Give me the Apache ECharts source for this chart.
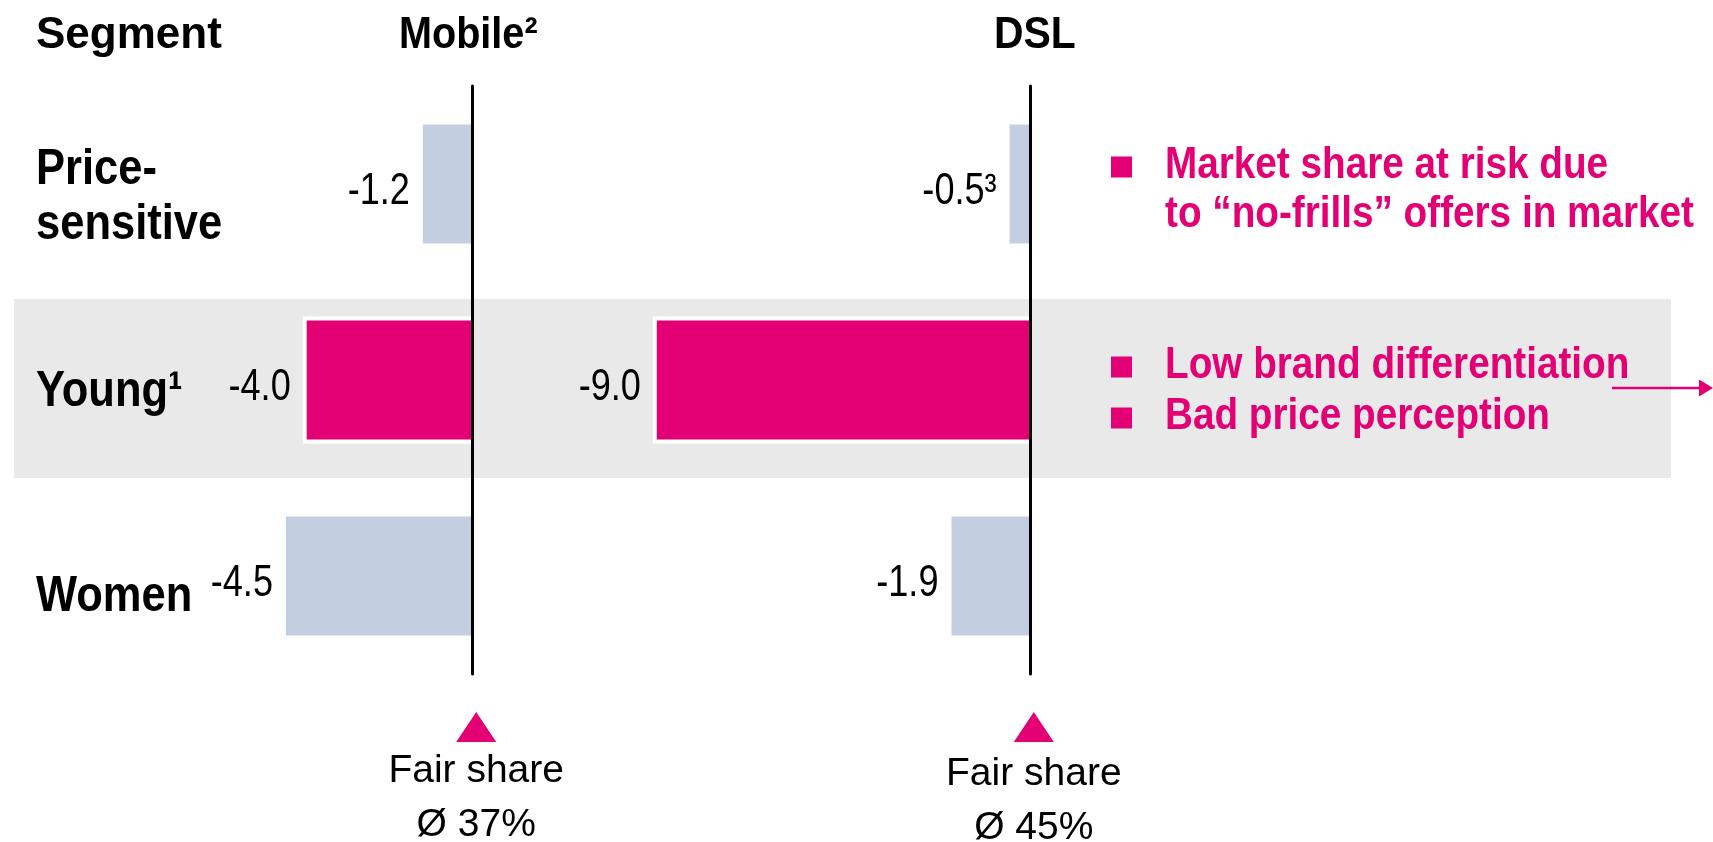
<!DOCTYPE html>
<html>
<head>
<meta charset="utf-8">
<script src="https://cdn.jsdelivr.net/npm/echarts@6/dist/echarts.min.js"></script>
<style>
  html, body { margin: 0; padding: 0; background: #ffffff; }
  #chart { width: 1713px; height: 842px; }
</style>
</head>
<body>
<div id="chart"></div>
<script>
// Segment gaps to fair share, percentage points
const segments = ['Price-\nsensitive', 'Young\u00B9', 'Women'];
const mobileGap = [-1.2, -4.0, -4.5];
const dslGap = [-0.5, -9.0, -1.9];
const mobileNotes = ['', '', ''];
const dslNotes = ['\u00B3', '', ''];
const highlighted = [false, true, false];
const panelTitles = ['Mobile\u00B2', 'DSL'];
const fairShareAvg = ['\u00D8 37%', '\u00D8 45%'];
const riskNotes = [
  ['Market share at risk due', 'to \u201Cno-frills\u201D offers in market'],
  ['Low brand differentiation'],
  ['Bad price perception']
];

const MAGENTA = '#e20074';
const BLUE = '#c3cfe1';
const BAND = '#e9e9e9';
const SANS = '"Liberation Sans", Arial, Helvetica, sans-serif';
const NARROW = 0.82;   // horizontal squeeze giving a condensed face

// layout of the two panels (value axis runs -10 .. 0)
const PX_PER_UNIT = 41.5;
const AXIS_MIN = -10;
const panelZeroX = [472.7, 1030.3];
const plotTop = 86, plotHeight = 588;
const labelShift = [13.5, 12, 21];

const chart = echarts.init(document.getElementById('chart'), null, { renderer: 'canvas' });

const grids = [], xAxes = [], yAxes = [], series = [];
[mobileGap, dslGap].forEach((vals, k) => {
  const w = -AXIS_MIN * PX_PER_UNIT;
  grids.push({
    left: panelZeroX[k] - w, width: w, top: plotTop, height: plotHeight,
    containLabel: false, outerBoundsMode: 'none'
  });
  xAxes.push({ gridIndex: k, type: 'value', min: AXIS_MIN, max: 0, show: false });
  // zero line of the panel
  yAxes.push({
    gridIndex: k, type: 'category', data: segments, inverse: true, position: 'right', z: 10,
    axisLine: { show: true, lineStyle: { color: '#000', width: 3 } },
    axisTick: { show: false }, axisLabel: { show: false }, splitLine: { show: false }
  });
  // separate band layout for the white frames
  yAxes.push({
    gridIndex: k, type: 'category', data: segments, inverse: true, position: 'left', show: false
  });
  const notes = k === 0 ? mobileNotes : dslNotes;
  // white frame behind highlighted bars
  series.push({
    type: 'bar', xAxisIndex: k, yAxisIndex: 2 * k + 1, silent: true, z: 1,
    barWidth: 127,
    data: vals.map((v, i) => highlighted[i] ? v : '-'),
    itemStyle: { color: '#ffffff', shadowColor: '#ffffff', shadowBlur: 0, shadowOffsetX: -4 }
  });
  series.push({
    type: 'bar', xAxisIndex: k, yAxisIndex: 2 * k, z: 3,
    barWidth: 119,
    data: vals.map((v, i) => ({ value: v, itemStyle: { color: highlighted[i] ? MAGENTA : BLUE } }))
  });
  // value labels left of each bar
  series.push({
    type: 'custom', xAxisIndex: k, yAxisIndex: 2 * k, z: 6, silent: true, clip: false,
    data: vals.map((v, i) => [v, i]),
    renderItem(params, api) {
      const i = params.dataIndex;
      const v = api.value(0);
      const p = api.coord([v, api.value(1)]);
      return {
        type: 'text', x: p[0] - (highlighted[i] ? 16 : 13), y: p[1] + 8, scaleX: NARROW,
        style: { text: v.toFixed(1) + notes[i], font: '44px ' + SANS, fill: '#000', align: 'right', verticalAlign: 'middle' }
      };
    }
  });
});

// segment names on the left
series.push({
  type: 'custom', xAxisIndex: 0, yAxisIndex: 0, z: 6, silent: true, clip: false,
  data: segments.map((s, i) => [0, i]),
  renderItem(params, api) {
    const i = params.dataIndex;
    const y = api.coord([0, api.value(1)])[1] + labelShift[i];
    return {
      type: 'text', x: 36, y: y, scaleX: 0.87,
      style: { text: segments[i], font: 'bold 50px ' + SANS, lineHeight: 55, fill: '#000', align: 'left', verticalAlign: 'middle' }
    };
  }
});

// decorations: highlighted row band, headers, notes, fair-share markers
const graphic = [
  { type: 'rect', z: -5, shape: { x: 14, y: 299, width: 1657, height: 179 }, style: { fill: BAND } },
  { type: 'text', x: 36, y: 35.5, style: { text: 'Segment', font: 'bold 44px ' + SANS, fill: '#000', verticalAlign: 'middle' } },
  { type: 'text', x: 399, y: 36, scaleX: 0.9, style: { text: panelTitles[0], font: 'bold 44px ' + SANS, fill: '#000', verticalAlign: 'middle' } },
  { type: 'text', x: 994, y: 36, scaleX: 0.93, style: { text: panelTitles[1], font: 'bold 44px ' + SANS, fill: '#000', verticalAlign: 'middle' } }
];

const noteRows = [[166, 215], [366], [417]];
riskNotes.forEach((lines, g) => {
  graphic.push({ type: 'rect', shape: { x: 1111, y: noteRows[g][0] - 9.5, width: 21, height: 21 }, style: { fill: MAGENTA } });
  lines.forEach((t, j) => {
    graphic.push({ type: 'text', x: 1165, y: noteRows[g][j], scaleX: 0.86, style: { text: t, font: 'bold 45px ' + SANS, fill: MAGENTA, verticalAlign: 'middle' } });
  });
});

// arrow to the right edge
graphic.push({ type: 'polyline', shape: { points: [[1612, 388], [1702, 388]] }, style: { stroke: MAGENTA, lineWidth: 2.5 } });
graphic.push({ type: 'polygon', shape: { points: [[1699, 379.5], [1713, 388], [1699, 396.5]] }, style: { fill: MAGENTA } });

panelZeroX.forEach((x0, k) => {
  const cx = x0 + 3.5;
  const dy = k === 0 ? 0 : 3;
  graphic.push({ type: 'polygon', shape: { points: [[cx, 712], [cx - 20, 742], [cx + 20, 742]] }, style: { fill: MAGENTA } });
  graphic.push({ type: 'text', x: cx, y: 771 + dy, style: { text: 'Fair share', font: '39px ' + SANS, fill: '#000', align: 'center', verticalAlign: 'middle' } });
  graphic.push({ type: 'text', x: cx, y: 825 + dy, style: { text: fairShareAvg[k], font: '39px ' + SANS, fill: '#000', align: 'center', verticalAlign: 'middle' } });
});

chart.setOption({
  animation: false,
  backgroundColor: '#ffffff',
  grid: grids,
  xAxis: xAxes,
  yAxis: yAxes,
  series: series,
  graphic: { elements: graphic }
});
</script>
</body>
</html>
